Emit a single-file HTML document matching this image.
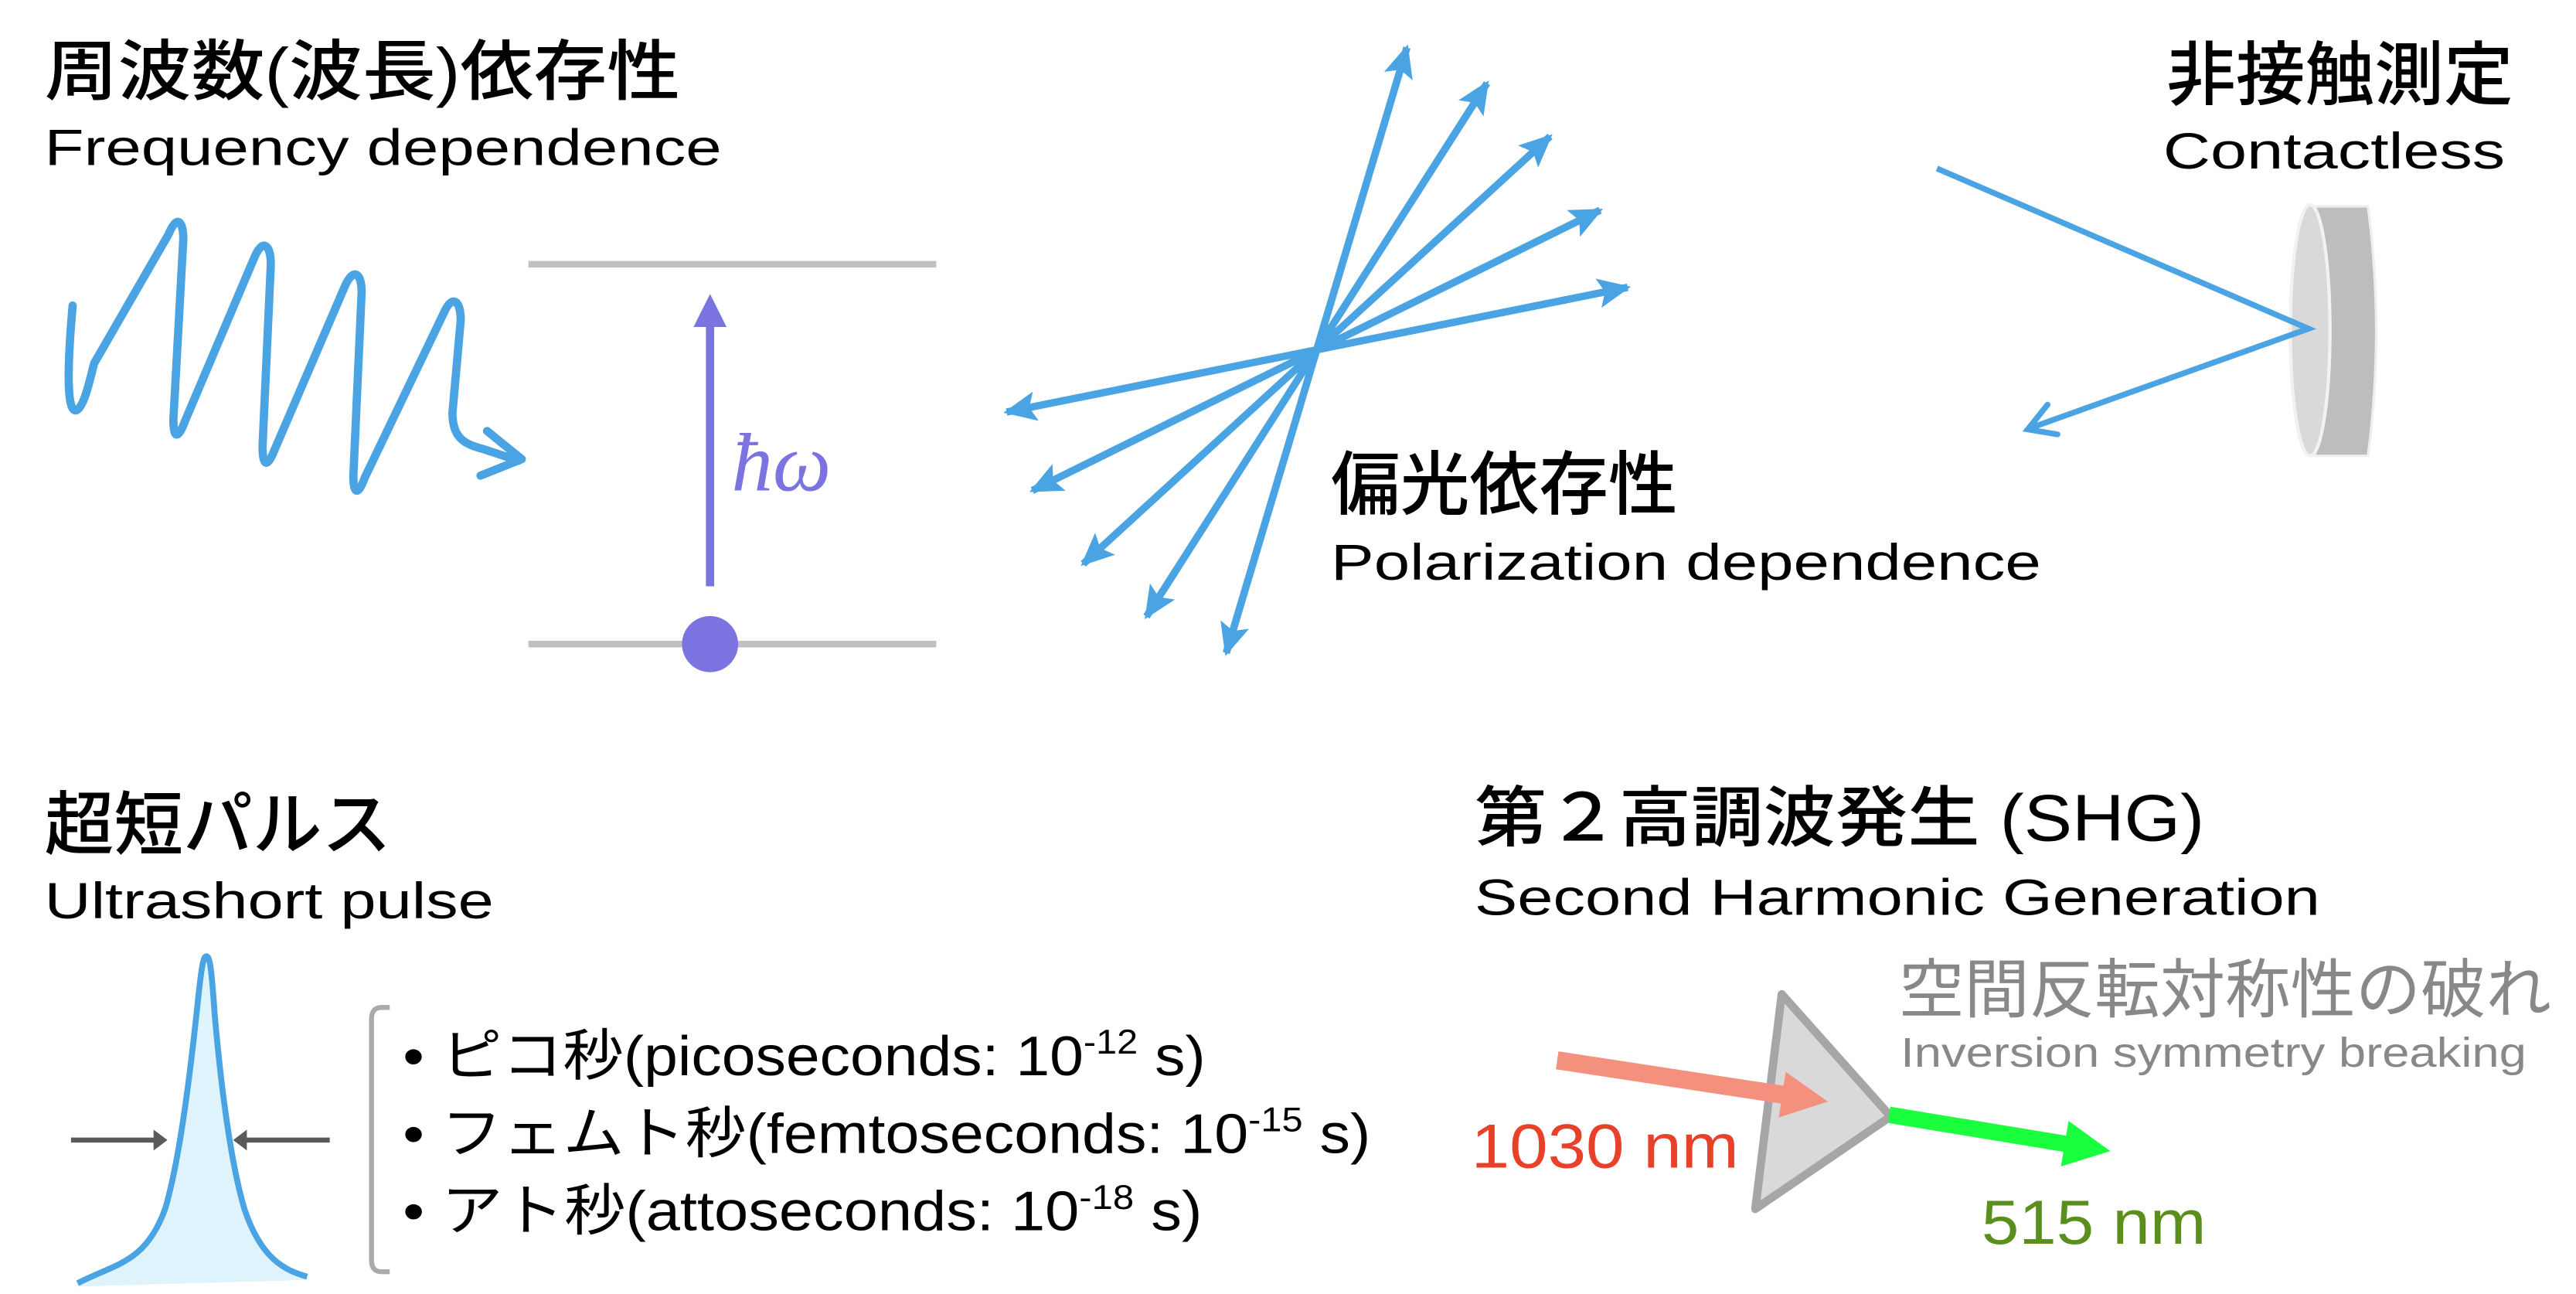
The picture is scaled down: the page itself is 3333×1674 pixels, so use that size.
<!DOCTYPE html>
<html><head><meta charset="utf-8"><style>
html,body{margin:0;padding:0;background:#fff;}
svg{display:block;}
.cj{font-family:"Liberation Sans","Noto Sans CJK JP",sans-serif;font-weight:500;fill:#000;}
.en{font-family:"Liberation Sans","Noto Sans CJK JP",sans-serif;fill:#000;}
</style></head><body>
<svg width="3333" height="1674" viewBox="0 0 1560 783.5" xmlns="http://www.w3.org/2000/svg">
<defs>
<marker id="bh" viewBox="0 0 20 18" refX="18" refY="9" markerWidth="20" markerHeight="18" markerUnits="userSpaceOnUse" orient="auto-start-reverse">
<path d="M0,0 L20,9 L0,18 L4,9 Z" fill="#4aa3e3"/></marker>
</defs>
<rect width="1560" height="783.5" fill="#fff"/>

<!-- Frequency -->
<text class="cj" x="27" y="57" font-size="40" textLength="385" lengthAdjust="spacingAndGlyphs">周波数(波長)依存性</text>
<text class="en" x="27" y="100" font-size="31" textLength="410" lengthAdjust="spacingAndGlyphs">Frequency dependence</text>
<path d="M44,185 C40,230 41,252 47,248 C51,245 54,232 57,220 L102,142 C107,130 111,133 111,145 L105,254 C105,266 108,266 112,255 L154,156 C159,144 164,148 164,160 L159,270 C159,283 162,283 166,273 L209,173 C214,162 219,165 219,177 L214,288 C214,300 217,300 221,289 L269,189 C274,178 279,182 279,194 L274,250 C274,266 282,269 293,272 L314,279" fill="none" stroke="#4aa3e3" stroke-width="5" stroke-linejoin="round" stroke-linecap="round"/>
<path d="M295,261 L316,278 L291,288" fill="none" stroke="#4aa3e3" stroke-width="5" stroke-linecap="round" stroke-linejoin="round"/>

<line x1="320" y1="160" x2="567" y2="160" stroke="#c0c0c0" stroke-width="4"/>
<line x1="320" y1="390" x2="567" y2="390" stroke="#c0c0c0" stroke-width="4"/>
<line x1="430" y1="355" x2="430" y2="195" stroke="#7b74e0" stroke-width="5"/>
<path d="M420,198 L430,178 L440,198 Z" fill="#7b74e0"/>
<ellipse cx="430" cy="390" rx="17" ry="17" fill="#7b74e0"/>
<text x="443" y="297" font-size="50" font-style="italic" font-family="Liberation Serif, DejaVu Serif, serif" fill="#7b74e0">ħω</text>

<!-- Polarization -->
<g stroke="#4aa3e3" stroke-width="4.5" marker-start="url(#bh)" marker-end="url(#bh)">
<line x1="742.6" y1="395.4" x2="852" y2="28.8"/>
<line x1="694.3" y1="373.3" x2="900.5" y2="50.4"/>
<line x1="656" y1="341.4" x2="938.7" y2="82.6"/>
<line x1="625.2" y1="297" x2="969" y2="127.3"/>
<line x1="609.6" y1="249.5" x2="985.7" y2="174"/>
</g>
<text class="cj" x="806" y="308" font-size="42">偏光依存性</text>
<text class="en" x="806" y="351" font-size="31" textLength="430" lengthAdjust="spacingAndGlyphs">Polarization dependence</text>

<!-- Contactless -->
<text class="cj" x="1312" y="60" font-size="42">非接触測定</text>
<text class="en" x="1310" y="102" font-size="31" textLength="207" lengthAdjust="spacingAndGlyphs">Contactless</text>
<path d="M1402,125 L1434,125 Q1444,200 1434,276 L1402,276 Z" fill="#bdbdbd" stroke="#eee" stroke-width="1.5"/>
<ellipse cx="1399" cy="200" rx="12" ry="76" fill="#d9d9d9" stroke="#f2f2f2" stroke-width="2"/>
<polyline points="1173,102 1398,199 1230,259" fill="none" stroke="#4aa3e3" stroke-width="3.5"/>
<path d="M1240,245 L1228,260 L1246,263" fill="none" stroke="#4aa3e3" stroke-width="3.5" stroke-linecap="round"/>

<!-- Ultrashort -->
<text class="cj" x="27" y="514" font-size="42">超短パルス</text>
<text class="en" x="27" y="556" font-size="31" textLength="272" lengthAdjust="spacingAndGlyphs">Ultrashort pulse</text>
<path d="M47,777 C70,765 88,765 100,732 C108,705 114,660 119,614 C122,585 123,579 125,579 C127,579 128,585 130,614 C134,660 140,705 148,732 C158,762 172,769 186,773 L186,775 L47,779 Z" fill="#dff3fc"/>
<path d="M47,777 C70,765 88,765 100,732 C108,705 114,660 119,614 C122,585 123,579 125,579 C127,579 128,585 130,614 C134,660 140,705 148,732 C158,762 172,769 186,773" fill="none" stroke="#4aa3e3" stroke-width="3.6"/>
<line x1="43" y1="690.3" x2="95" y2="690.3" stroke="#5a5a5a" stroke-width="3"/>
<path d="M93,684 L101.4,690.3 L93,696.6 Z" fill="#5a5a5a"/>
<line x1="199.7" y1="690.3" x2="147" y2="690.3" stroke="#5a5a5a" stroke-width="3"/>
<path d="M149.5,684 L141.2,690.3 L149.5,696.6 Z" fill="#5a5a5a"/>
<path d="M236,610 L231,610 Q225,610 225,617 L225,763 Q225,770 231,770 L236,770" fill="none" stroke="#aaa" stroke-width="3"/>
<g class="en" font-size="34">
<text x="244" y="651" textLength="486" lengthAdjust="spacingAndGlyphs">• ピコ秒(picoseconds: 10<tspan font-size="21" dy="-13">-12</tspan><tspan dy="13"> s)</tspan></text>
<text x="244" y="698" textLength="586" lengthAdjust="spacingAndGlyphs">• フェムト秒(femtoseconds: 10<tspan font-size="21" dy="-13">-15</tspan><tspan dy="13"> s)</tspan></text>
<text x="244" y="745" textLength="484" lengthAdjust="spacingAndGlyphs">• アト秒(attoseconds: 10<tspan font-size="21" dy="-13">-18</tspan><tspan dy="13"> s)</tspan></text>
</g>

<!-- SHG -->
<text class="cj" x="893" y="509" font-size="40" textLength="442" lengthAdjust="spacingAndGlyphs">第２高調波発生 (SHG)</text>
<text class="en" x="893" y="554" font-size="31" textLength="512" lengthAdjust="spacingAndGlyphs">Second Harmonic Generation</text>
<text x="1150" y="613" font-size="39" font-family="Liberation Sans,Noto Sans CJK JP,sans-serif" fill="#888" textLength="395" lengthAdjust="spacingAndGlyphs">空間反転対称性の破れ</text>
<text x="1151" y="646" font-size="25" font-family="Liberation Sans,sans-serif" fill="#888" textLength="379" lengthAdjust="spacingAndGlyphs">Inversion symmetry breaking</text>
<polygon points="1079,602 1145,676 1063,732" fill="#d9d9d9" stroke="#a6a6a6" stroke-width="5" stroke-linejoin="round"/>
<polygon points="943.8,636.6 1080.1,657.4 1081.4,649 1107,667 1077.2,676.6 1078.5,668.2 942.2,647.4" fill="#f4917e"/>
<polygon points="1144.8,670.1 1251.2,687.6 1252.7,678.7 1278,697 1248.1,706.3 1249.6,697.4 1143.2,679.9" fill="#1aff3e"/>
<text x="891" y="707" font-size="38" font-family="Liberation Sans,sans-serif" fill="#e8412a" textLength="162" lengthAdjust="spacingAndGlyphs">1030 nm</text>
<text x="1200" y="753" font-size="38" font-family="Liberation Sans,sans-serif" fill="#5a8f1e" textLength="136" lengthAdjust="spacingAndGlyphs">515 nm</text>
</svg>
</body></html>
